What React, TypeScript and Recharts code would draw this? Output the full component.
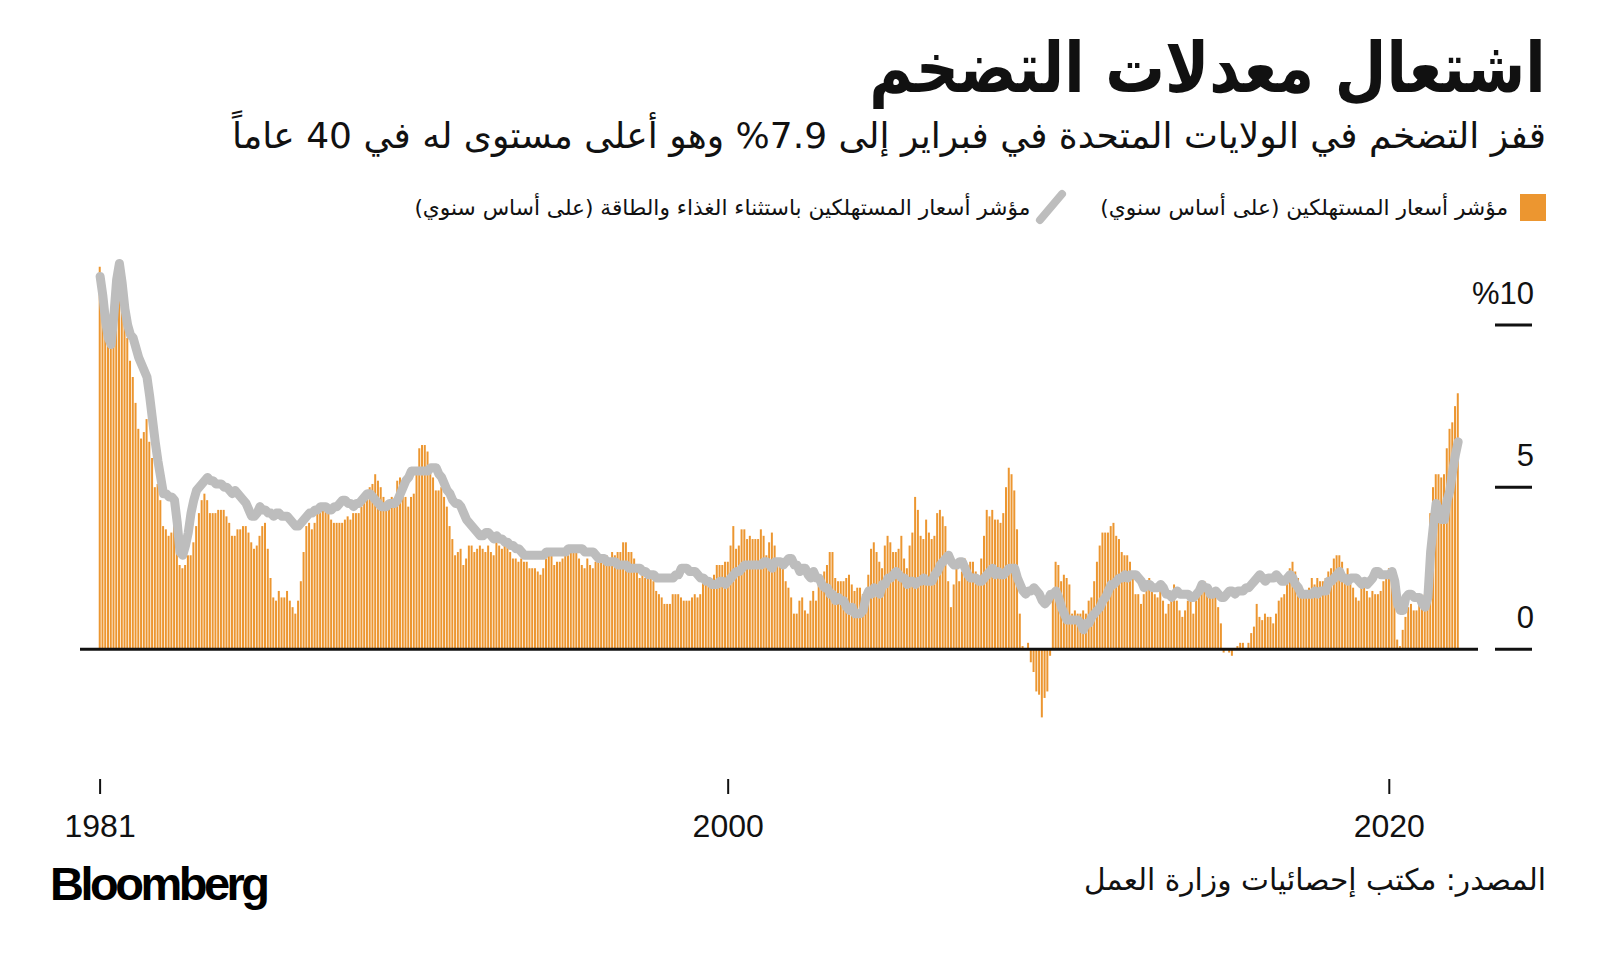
import React from "react";
import { ComposedChart, Bar, Line, XAxis, YAxis, ReferenceLine } from "recharts";

// US CPI, year-over-year %, monthly from Jan 1981 to Feb 2022 (one row per year)
const firstYear = 1981;

const headlineCpi: number[][] = [
  [11.8, 11.4, 10.5, 10.0, 9.8, 9.6, 10.8, 10.8, 11.0, 10.1, 9.6, 8.9], // 1981
  [8.4, 7.6, 6.8, 6.5, 6.7, 7.1, 6.4, 5.9, 5.0, 5.1, 4.6, 3.8],
  [3.7, 3.5, 3.6, 3.9, 3.5, 2.6, 2.5, 2.6, 2.9, 2.9, 3.3, 3.8],
  [4.2, 4.6, 4.8, 4.6, 4.2, 4.2, 4.2, 4.3, 4.3, 4.3, 4.1, 3.9],
  [3.5, 3.5, 3.7, 3.7, 3.8, 3.8, 3.6, 3.3, 3.1, 3.2, 3.5, 3.8], // 1985
  [3.9, 3.1, 2.2, 1.6, 1.5, 1.8, 1.6, 1.6, 1.8, 1.5, 1.3, 1.1],
  [1.5, 2.1, 3.0, 3.8, 3.9, 3.7, 3.9, 4.3, 4.4, 4.5, 4.5, 4.4],
  [4.0, 3.9, 3.9, 3.9, 3.9, 4.0, 4.1, 4.0, 4.2, 4.2, 4.2, 4.4],
  [4.7, 4.8, 5.0, 5.1, 5.4, 5.2, 5.0, 4.7, 4.3, 4.5, 4.7, 4.6],
  [5.2, 5.3, 5.2, 4.7, 4.4, 4.7, 4.8, 5.6, 6.2, 6.3, 6.3, 6.1], // 1990
  [5.7, 5.3, 4.9, 4.9, 5.0, 4.7, 4.4, 3.8, 3.4, 2.9, 3.0, 3.1],
  [2.6, 2.8, 3.2, 3.2, 3.0, 3.1, 3.2, 3.1, 3.0, 3.2, 3.0, 2.9],
  [3.3, 3.2, 3.1, 3.2, 3.2, 3.0, 2.8, 2.8, 2.7, 2.8, 2.7, 2.7],
  [2.5, 2.5, 2.5, 2.4, 2.3, 2.5, 2.8, 2.9, 3.0, 2.6, 2.7, 2.7],
  [2.8, 2.9, 2.9, 3.1, 3.2, 3.0, 2.8, 2.6, 2.5, 2.8, 2.6, 2.5], // 1995
  [2.7, 2.7, 2.8, 2.9, 2.9, 2.8, 3.0, 2.9, 3.0, 3.0, 3.3, 3.3],
  [3.0, 3.0, 2.8, 2.5, 2.2, 2.3, 2.2, 2.2, 2.2, 2.1, 1.8, 1.7],
  [1.6, 1.4, 1.4, 1.4, 1.7, 1.7, 1.7, 1.6, 1.5, 1.5, 1.5, 1.6],
  [1.7, 1.6, 1.7, 2.3, 2.1, 2.0, 2.1, 2.3, 2.6, 2.6, 2.6, 2.7],
  [2.7, 3.2, 3.8, 3.1, 3.2, 3.7, 3.7, 3.4, 3.5, 3.4, 3.4, 3.4], // 2000
  [3.7, 3.5, 2.9, 3.3, 3.6, 3.2, 2.7, 2.7, 2.6, 2.1, 1.9, 1.6],
  [1.1, 1.1, 1.5, 1.6, 1.2, 1.1, 1.5, 1.8, 1.5, 2.0, 2.2, 2.4],
  [2.6, 3.0, 3.0, 2.2, 2.1, 2.1, 2.1, 2.2, 2.3, 2.0, 1.8, 1.9],
  [1.9, 1.7, 1.7, 2.3, 3.1, 3.3, 3.0, 2.7, 2.5, 3.2, 3.5, 3.3],
  [3.0, 3.0, 3.1, 3.5, 2.8, 2.5, 3.2, 3.6, 4.7, 4.3, 3.5, 3.4], // 2005
  [4.0, 3.6, 3.4, 3.5, 4.2, 4.3, 4.1, 3.8, 2.1, 1.3, 2.0, 2.5],
  [2.1, 2.4, 2.8, 2.6, 2.7, 2.7, 2.4, 2.0, 2.8, 3.5, 4.3, 4.1],
  [4.3, 4.0, 4.0, 3.9, 4.2, 5.0, 5.6, 5.4, 4.9, 3.7, 1.1, 0.1],
  [0.0, 0.2, -0.4, -0.7, -1.3, -1.4, -2.1, -1.5, -1.3, -0.2, 1.8, 2.7],
  [2.6, 2.1, 2.3, 2.2, 2.0, 1.1, 1.2, 1.1, 1.1, 1.2, 1.1, 1.5], // 2010
  [1.6, 2.1, 2.7, 3.2, 3.6, 3.6, 3.6, 3.8, 3.9, 3.5, 3.4, 3.0],
  [2.9, 2.9, 2.7, 2.3, 1.7, 1.7, 1.4, 1.7, 2.0, 2.2, 1.8, 1.7],
  [1.6, 2.0, 1.5, 1.1, 1.4, 1.8, 2.0, 1.5, 1.2, 1.0, 1.2, 1.5],
  [1.6, 1.1, 1.5, 2.0, 2.1, 2.1, 2.0, 1.7, 1.7, 1.7, 1.3, 0.8],
  [-0.1, 0.0, -0.1, -0.2, 0.0, 0.1, 0.2, 0.2, 0.0, 0.2, 0.5, 0.7], // 2015
  [1.4, 1.0, 0.9, 1.1, 1.0, 1.0, 0.8, 1.1, 1.5, 1.6, 1.7, 2.1],
  [2.5, 2.7, 2.4, 2.2, 1.9, 1.6, 1.7, 1.9, 2.2, 2.0, 2.2, 2.1],
  [2.1, 2.2, 2.4, 2.5, 2.8, 2.9, 2.9, 2.7, 2.3, 2.5, 2.2, 1.9],
  [1.6, 1.5, 1.9, 2.0, 1.8, 1.6, 1.8, 1.7, 1.7, 1.8, 2.1, 2.3],
  [2.5, 2.3, 1.5, 0.3, 0.1, 0.6, 1.0, 1.3, 1.4, 1.2, 1.2, 1.4], // 2020
  [1.4, 1.7, 2.6, 4.2, 5.0, 5.4, 5.4, 5.3, 5.4, 6.2, 6.8, 7.0],
  [7.5, 7.9],
];

// CPI excluding food and energy, year-over-year %
const coreCpi: number[][] = [
  [11.5, 10.9, 10.1, 9.6, 9.4, 10.3, 11.4, 11.9, 11.3, 10.5, 10.0, 9.7], // 1981
  [9.6, 9.3, 9.0, 8.8, 8.6, 8.4, 7.8, 7.1, 6.4, 5.8, 5.3, 4.8],
  [4.8, 4.7, 4.7, 4.6, 3.9, 3.0, 2.9, 3.2, 3.6, 4.2, 4.6, 4.9],
  [5.0, 5.1, 5.2, 5.3, 5.2, 5.2, 5.1, 5.1, 5.1, 5.0, 5.0, 4.9],
  [4.8, 4.9, 4.8, 4.7, 4.6, 4.5, 4.3, 4.1, 4.1, 4.2, 4.4, 4.3], // 1985
  [4.3, 4.2, 4.2, 4.1, 4.2, 4.2, 4.1, 4.1, 4.1, 4.0, 3.9, 3.8],
  [3.8, 3.9, 4.0, 4.1, 4.2, 4.2, 4.3, 4.3, 4.4, 4.4, 4.4, 4.3],
  [4.3, 4.4, 4.4, 4.5, 4.6, 4.6, 4.5, 4.5, 4.4, 4.5, 4.5, 4.6],
  [4.7, 4.8, 4.8, 4.7, 4.6, 4.5, 4.4, 4.4, 4.4, 4.5, 4.5, 4.5],
  [4.6, 4.8, 5.0, 5.2, 5.3, 5.5, 5.5, 5.5, 5.5, 5.5, 5.5, 5.5], // 1990
  [5.6, 5.6, 5.6, 5.4, 5.3, 5.1, 4.9, 4.8, 4.6, 4.5, 4.5, 4.4],
  [4.2, 4.0, 3.9, 3.8, 3.7, 3.6, 3.5, 3.5, 3.6, 3.6, 3.5, 3.4],
  [3.5, 3.4, 3.4, 3.3, 3.3, 3.2, 3.2, 3.1, 3.1, 3.0, 2.9, 2.9],
  [2.9, 2.9, 2.9, 2.9, 2.9, 2.9, 3.0, 3.0, 3.0, 3.0, 3.0, 3.0],
  [3.0, 3.0, 3.1, 3.1, 3.1, 3.1, 3.1, 3.1, 3.0, 3.0, 3.0, 3.0], // 1995
  [2.9, 2.8, 2.8, 2.8, 2.7, 2.7, 2.7, 2.7, 2.6, 2.6, 2.6, 2.6],
  [2.5, 2.5, 2.5, 2.5, 2.5, 2.4, 2.4, 2.3, 2.3, 2.3, 2.2, 2.2],
  [2.2, 2.2, 2.2, 2.2, 2.2, 2.3, 2.3, 2.5, 2.5, 2.5, 2.4, 2.4],
  [2.4, 2.3, 2.2, 2.2, 2.1, 2.1, 2.0, 2.0, 2.0, 2.1, 2.1, 2.0],
  [2.1, 2.2, 2.3, 2.4, 2.4, 2.5, 2.6, 2.6, 2.6, 2.6, 2.6, 2.6], // 2000
  [2.6, 2.7, 2.7, 2.6, 2.5, 2.7, 2.7, 2.7, 2.6, 2.7, 2.8, 2.8],
  [2.6, 2.6, 2.4, 2.5, 2.5, 2.3, 2.2, 2.4, 2.2, 2.2, 2.0, 1.9],
  [1.9, 1.7, 1.7, 1.5, 1.6, 1.5, 1.5, 1.3, 1.2, 1.3, 1.1, 1.1],
  [1.1, 1.2, 1.6, 1.8, 1.7, 1.9, 1.8, 1.7, 2.0, 2.0, 2.2, 2.2],
  [2.3, 2.4, 2.3, 2.2, 2.2, 2.0, 2.1, 2.1, 2.0, 2.1, 2.1, 2.2], // 2005
  [2.1, 2.1, 2.1, 2.3, 2.4, 2.6, 2.7, 2.8, 2.9, 2.7, 2.6, 2.6],
  [2.7, 2.7, 2.5, 2.3, 2.2, 2.2, 2.2, 2.1, 2.1, 2.2, 2.3, 2.4],
  [2.5, 2.3, 2.4, 2.3, 2.3, 2.4, 2.5, 2.5, 2.5, 2.2, 2.0, 1.8],
  [1.7, 1.8, 1.8, 1.9, 1.8, 1.7, 1.5, 1.4, 1.5, 1.7, 1.7, 1.8],
  [1.6, 1.3, 1.1, 0.9, 0.9, 0.9, 0.9, 0.9, 0.8, 0.6, 0.8, 0.8], // 2010
  [1.0, 1.1, 1.2, 1.3, 1.5, 1.6, 1.8, 2.0, 2.0, 2.1, 2.2, 2.2],
  [2.3, 2.2, 2.3, 2.3, 2.3, 2.2, 2.1, 1.9, 2.0, 2.0, 1.9, 1.9],
  [1.9, 2.0, 1.9, 1.7, 1.7, 1.6, 1.7, 1.8, 1.7, 1.7, 1.7, 1.7],
  [1.6, 1.6, 1.7, 1.8, 2.0, 1.9, 1.9, 1.7, 1.7, 1.8, 1.7, 1.6],
  [1.6, 1.7, 1.8, 1.8, 1.7, 1.8, 1.8, 1.8, 1.9, 1.9, 2.0, 2.1], // 2015
  [2.2, 2.3, 2.2, 2.1, 2.2, 2.2, 2.2, 2.3, 2.2, 2.1, 2.1, 2.2],
  [2.3, 2.2, 2.0, 1.9, 1.7, 1.7, 1.7, 1.7, 1.7, 1.8, 1.7, 1.8],
  [1.8, 1.8, 2.1, 2.1, 2.2, 2.3, 2.4, 2.2, 2.2, 2.1, 2.2, 2.2],
  [2.2, 2.1, 2.0, 2.1, 2.0, 2.1, 2.2, 2.4, 2.4, 2.3, 2.3, 2.3],
  [2.3, 2.4, 2.1, 1.4, 1.2, 1.2, 1.6, 1.7, 1.7, 1.6, 1.6, 1.6], // 2020
  [1.4, 1.3, 1.6, 3.0, 3.8, 4.5, 4.3, 4.0, 4.0, 4.6, 4.9, 5.5],
  [6.0, 6.4],
];

const yearTicks = [1981, 2000, 2020];
const valueTicks = [0, 5, 10];

const title = "اشتعال معدلات التضخم";
const subtitle = "قفز التضخم في الولايات المتحدة في فبراير إلى 7.9% وهو أعلى مستوى له في 40 عاماً";
const legendCpi = "مؤشر أسعار المستهلكين (على أساس سنوي)";
const legendCore = "مؤشر أسعار المستهلكين باستثناء الغذاء والطاقة (على أساس سنوي)";
const source = "المصدر: مكتب إحصائيات وزارة العمل";

const ORANGE = "#EC9630";
const GREY = "#BDBDBD";
const arabicFont = "'DejaVu Sans', 'Noto Sans', sans-serif";
const latinFont = "'Liberation Sans', Arial, sans-serif";

const data = headlineCpi.flatMap((row, y) =>
  row.map((v, m) => ({
    idx: y * 12 + m,
    label: `${firstYear + y}-${m + 1}`,
    cpi: v,
    core: coreCpi[y][m],
  }))
);

const monthIndexOf = (year: number) => (year - firstYear) * 12;

const YearTick = ({ x, y, payload }: any) => (
  <text x={x} y={y + 43} textAnchor="middle" fontSize={32} fontFamily={latinFont} fill="#111">
    {firstYear + Math.round(payload.value / 12)}
  </text>
);

const ValueTick = ({ x, y, payload }: any) => (
  <g>
    <line x1={x + 17} x2={x + 54} y1={y} y2={y} stroke="#111" strokeWidth={3} />
    <text x={x + 56} y={y - 21} textAnchor="end" fontSize={31} fontFamily={latinFont} fill="#111">
      {payload.value === 10 ? "%10" : payload.value}
    </text>
  </g>
);

export default function App() {
  return (
    <div
      style={{
        position: "absolute",
        left: 0,
        top: 0,
        width: 1600,
        height: 963,
        background: "#fff",
        overflow: "hidden",
      }}
    >
      <div
        style={{
          position: "absolute",
          right: 54,
          top: 27,
          direction: "rtl",
          fontFamily: arabicFont,
          fontWeight: 700,
          fontSize: 70,
          whiteSpace: "nowrap",
          color: "#111",
          transform: "scaleX(0.85)",
          transformOrigin: "right center",
        }}
      >
        {title}
      </div>
      <div
        style={{
          position: "absolute",
          right: 54,
          top: 115,
          direction: "rtl",
          fontFamily: arabicFont,
          fontSize: 36,
          whiteSpace: "nowrap",
          color: "#111",
        }}
      >
        {subtitle}
      </div>

      {/* legend */}
      <div
        style={{
          position: "absolute",
          right: 54,
          top: 188,
          direction: "rtl",
          display: "flex",
          alignItems: "center",
          fontFamily: arabicFont,
          fontSize: 21.7,
          color: "#111",
          whiteSpace: "nowrap",
        }}
      >
        <span style={{ width: 26, height: 27, background: ORANGE, display: "inline-block", marginLeft: 12 }} />
        <span>{legendCpi}</span>
        <svg width={34} height={38} style={{ marginRight: 32, marginLeft: 4 }}>
          <line x1={6} y1={32} x2={28} y2={6} stroke={GREY} strokeWidth={8} strokeLinecap="round" />
        </svg>
        <span>{legendCore}</span>
      </div>

      <div style={{ position: "absolute", left: 0, top: 0 }}>
        <ComposedChart
          width={1600}
          height={963}
          data={data}
          margin={{ top: 244, right: 12, left: 80, bottom: 124 }}
        >
          <XAxis
            dataKey="idx"
            type="number"
            domain={[-7.3, 500.2]}
            ticks={yearTicks.map(monthIndexOf)}
            height={60}
            axisLine={false}
            tickLine={{ stroke: "#111", strokeWidth: 2 }}
            tickSize={15}
            tickMargin={0}
            tick={<YearTick />}
            interval={0}
            allowDataOverflow
          />
          <YAxis
            orientation="right"
            type="number"
            domain={[-4, 12.5]}
            ticks={valueTicks}
            width={110}
            axisLine={false}
            tickLine={false}
            tickSize={0}
            tickMargin={0}
            tick={<ValueTick />}
            interval={0}
            allowDataOverflow
          />
          <Bar dataKey="cpi" fill={ORANGE} barSize={2} isAnimationActive={false} />
          <ReferenceLine y={0} stroke="#111" strokeWidth={3} />
          <Line
            dataKey="core"
            type="linear"
            stroke={GREY}
            strokeWidth={9}
            strokeLinejoin="round"
            strokeLinecap="round"
            dot={false}
            activeDot={false}
            isAnimationActive={false}
          />
        </ComposedChart>
      </div>

      <div
        style={{
          position: "absolute",
          left: 50,
          top: 856,
          fontFamily: latinFont,
          fontWeight: 700,
          fontSize: 47,
          letterSpacing: -3.5,
          color: "#000",
        }}
      >
        Bloomberg
      </div>
      <div
        style={{
          position: "absolute",
          right: 54,
          top: 862,
          direction: "rtl",
          fontFamily: arabicFont,
          fontSize: 29.7,
          whiteSpace: "nowrap",
          color: "#111",
        }}
      >
        {source}
      </div>
    </div>
  );
}
